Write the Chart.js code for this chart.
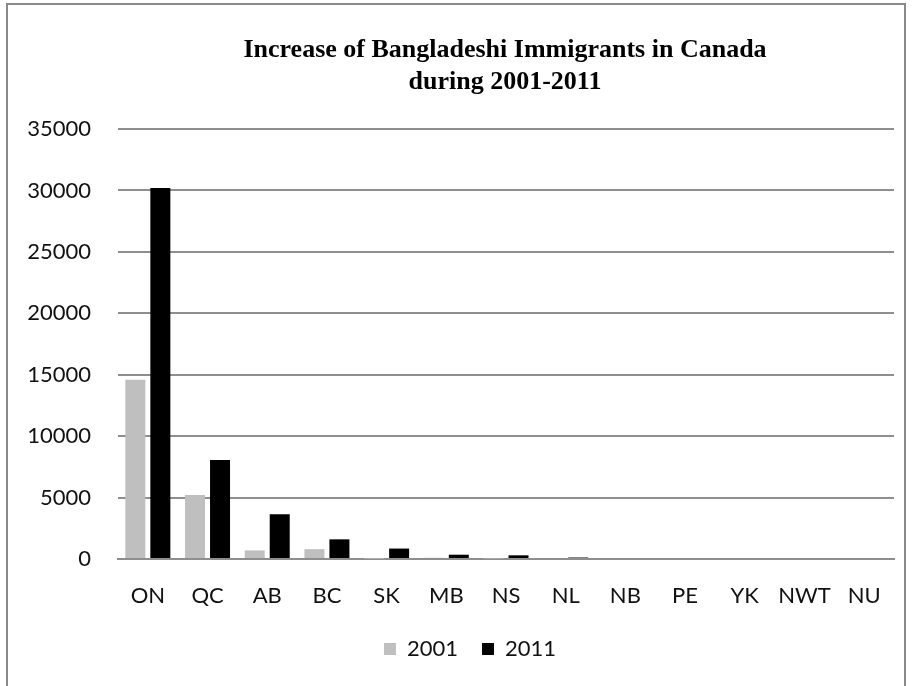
<!DOCTYPE html>
<html>
<head>
<meta charset="utf-8">
<script src="https://cdn.jsdelivr.net/npm/chart.js@4.4.1/dist/chart.umd.min.js"></script>
<style>
  html, body { margin: 0; padding: 0; background: #fff; }
  #wrap { position: relative; width: 914px; height: 686px; overflow: hidden; }
  #frame { position: absolute; left: 6px; top: 3px; width: 900px; height: 720px; border: 2px solid #8a8a8a; box-sizing: border-box; pointer-events: none; }
  canvas { position: absolute; left: 0; top: 0; }
</style>
</head>
<body>
<div id="wrap">
  <canvas id="c" width="914" height="686"></canvas>
  <div id="frame"></div>
</div>
<script>
const categories = ["ON", "QC", "AB", "BC", "SK", "MB", "NS", "NL", "NB", "PE", "YK", "NWT", "NU"];
const values2001 = [14600, 5200, 700, 800, 30, 100, 40, 0, 0, 0, 0, 0, 0];
const values2011 = [30200, 8050, 3650, 1600, 850, 350, 300, 120, 0, 0, 0, 0, 0];
const seriesNames = ["2001", "2011"];
const yTicks = { min: 0, max: 35000, step: 5000 };
const titleLines = ["Increase of Bangladeshi Immigrants in Canada", "during 2001-2011"];

const labelFont = { family: "Lato", size: 22 };

const titlePlugin = {
  id: "centeredTitle",
  afterLayout(chart) {
    // nudge the legend to where the original places it
    const lg = chart.legend;
    if (lg) { lg.left += 46; lg.top -= 16; lg.bottom -= 16; }
  },
  afterDraw(chart) {
    const ctx = chart.ctx;
    ctx.save();
    ctx.fillStyle = "#000";
    ctx.font = "bold 26px 'Liberation Serif'";
    ctx.textAlign = "center";
    ctx.textBaseline = "middle";
    const cx = 505;
    titleLines.forEach((line, i) => ctx.fillText(line, cx, 50 + i * 32));
    ctx.restore();
  }
};

new Chart(document.getElementById("c"), {
  type: "bar",
  data: {
    labels: categories,
    datasets: [
      { label: seriesNames[0], data: values2001, backgroundColor: "#bfbfbf", borderWidth: 0,
        categoryPercentage: 0.8375, barPercentage: 0.8 },
      { label: seriesNames[1], data: values2011, backgroundColor: "#000000", borderWidth: 0,
        categoryPercentage: 0.8375, barPercentage: 0.8 }
    ]
  },
  plugins: [titlePlugin],
  options: {
    responsive: false,
    animation: false,
    devicePixelRatio: 1,
    layout: { padding: { left: 0, right: 20, top: 129, bottom: 0 } },
    plugins: {
      tooltip: { enabled: false },
      title: { display: false },
      legend: {
        position: "bottom",
        labels: {
          color: "#111",
          font: labelFont,
          boxWidth: 12,
          boxHeight: 12,
          padding: 24
        }
      }
    },
    scales: {
      x: {
        afterFit: (s) => { s.height = 71; },
        grid: { display: false, drawTicks: false },
        border: { display: true, color: "#8e8e8e", width: 2 },
        ticks: { color: "#111", font: labelFont, padding: 24, maxRotation: 0, autoSkip: false }
      },
      y: {
        min: yTicks.min,
        max: yTicks.max,
        afterFit: (s) => { s.width = 118; },
        grid: { color: "#8e8e8e", lineWidth: 2, drawTicks: false },
        border: { display: false },
        ticks: { color: "#111", font: labelFont, stepSize: yTicks.step, padding: 27,
                 callback: (v) => String(v) }
      }
    }
  }
});
</script>
</body>
</html>
